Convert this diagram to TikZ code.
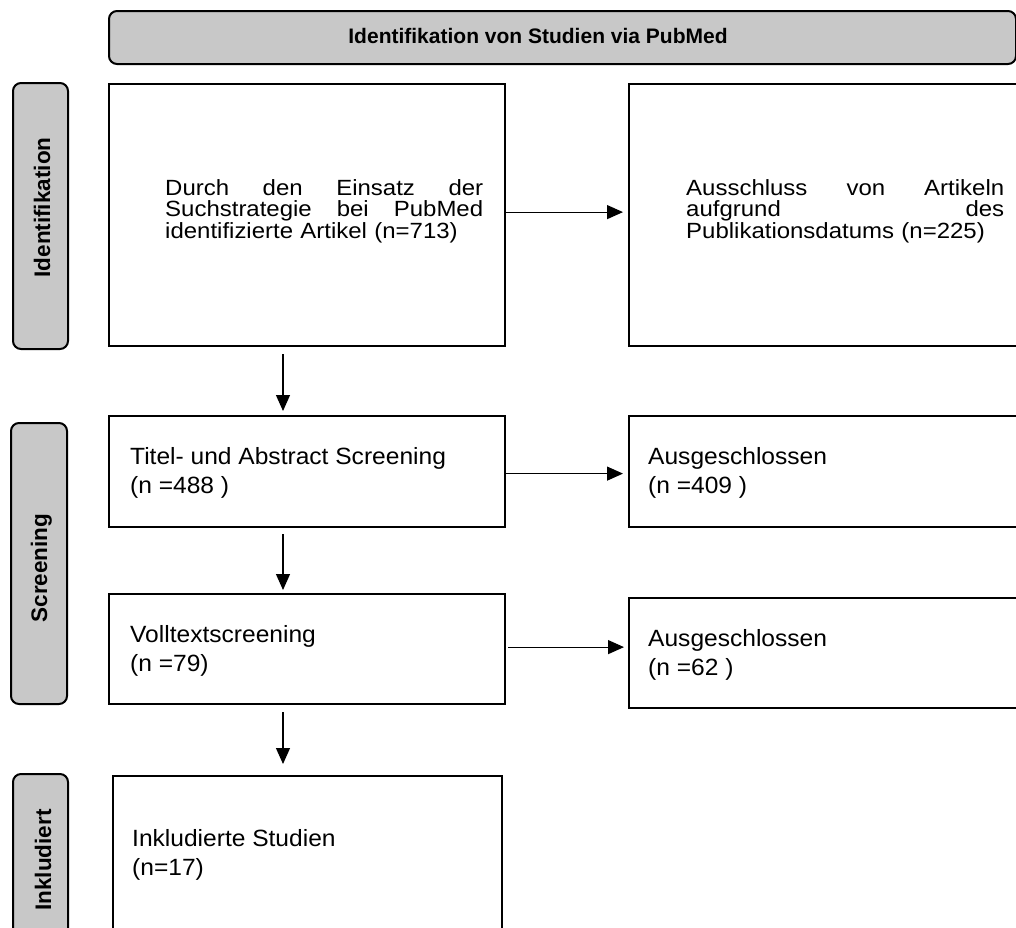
\documentclass[tikz,border=0pt]{standalone}
\usepackage{fontspec}
\setmainfont{Liberation Sans}
\newfontfamily\widetop{Liberation Sans}[FakeStretch=1.09]
\newfontfamily\widelow{Liberation Sans}[FakeStretch=1.045]
\usetikzlibrary{arrows.meta}
\definecolor{lblgray}{RGB}{200,200,200}
\tikzset{
  box/.style={draw=black, line width=2.2pt, fill=white, inner sep=0pt, anchor=north west},
  lbl/.style={draw=black, line width=2pt, fill=lblgray, rounded corners=8pt, inner sep=0pt, anchor=north west},
  toptext/.style={inner sep=0pt, anchor=north west, text width=318pt, align=left,
    font=\widetop\fontsize{22}{21.5}\selectfont},
  lowtext/.style={inner sep=0pt, anchor=north west, align=left,
    font=\widelow\fontsize{23.5}{29}\selectfont},
  vtext/.style={rotate=90, anchor=base, inner sep=0pt, font=\bfseries\fontsize{22.5}{27}\selectfont},
  arr/.style={line width=1.2pt, -{Triangle[length=16pt,width=14pt]}},
}
\newcommand{\fs}{\rule{0pt}{18pt}}
\begin{document}
\begin{tikzpicture}[x=1pt,y=-1pt]
\useasboundingbox (0,0) rectangle (1016,927);
\clip (0,0) rectangle (1016,927);

% header
\node[lbl, minimum width=907pt, minimum height=53pt] (hdr) at (108,10) {};
\node[inner sep=0pt, font=\bfseries\fontsize{21}{25}\selectfont] (hdrt) at (538,36) {Identifikation von Studien via PubMed};

% phase labels
\node[lbl, minimum width=55pt, minimum height=266pt] (l1) at (12,82) {};
\node[vtext] (l1t) at (50,207.5) {Identifikation};
\node[lbl, minimum width=56pt, minimum height=281pt] (l2) at (10,422) {};
\node[vtext] (l2t) at (47,568) {Screening};
\node[lbl, minimum width=55pt, minimum height=250pt] (l3) at (12,773) {};
\node[vtext] (l3t) at (51,860) {Inkludiert};

% boxes
\node[box, minimum width=396pt, minimum height=262pt] (b1) at (108,83) {};
\node[box, minimum width=420pt, minimum height=262pt] (b2) at (628,83) {};
\node[box, minimum width=396pt, minimum height=111pt] (b3) at (108,415) {};
\node[box, minimum width=420pt, minimum height=111pt] (b4) at (628,415) {};
\node[box, minimum width=396pt, minimum height=110pt] (b5) at (108,593) {};
\node[box, minimum width=420pt, minimum height=110pt] (b6) at (628,597) {};
\node[box, minimum width=389pt, minimum height=250pt] (b7) at (112,775) {};

% texts
\node[toptext] (t1) at (165,177) {\fs Durch\hfill den\hfill Einsatz\hfill der\\Suchstrategie\hfill bei\hfill PubMed\\identifizierte Artikel (n=713)};
\node[toptext] (t2) at (686,177) {\fs Ausschluss\hfill von\hfill Artikeln\\aufgrund\hfill des\\Publikationsdatums (n=225)};
\node[lowtext] (t3) at (130,446) {\fs Titel- und Abstract Screening\\(n =488 )};
\node[lowtext] (t4) at (648,446) {\fs Ausgeschlossen\\(n =409 )};
\node[lowtext] (t5) at (130,624) {\fs Volltextscreening\\(n =79)};
\node[lowtext] (t6) at (648,628) {\fs Ausgeschlossen\\(n =62 )};
\node[lowtext] (t7) at (132,828) {\fs Inkludierte Studien\\(n=17)};

% connectors
\draw[arr, shorten >=5pt] ([yshift=3pt]b1.east) -- ([yshift=3pt]b2.west);
\draw[arr, shorten >=5pt] ([yshift=-2pt]b3.east) -- ([yshift=-2pt]b4.west);
\draw[arr, shorten >=4pt, shorten <=2pt] ([yshift=2pt]b5.east) -- ([yshift=2pt]b5.east -| b6.west);
\draw[arr, shorten <=7pt, shorten >=4pt] ([xshift=175pt]b1.south west) -- ([xshift=175pt]b3.north west);
\draw[arr, shorten <=6pt, shorten >=3pt] ([xshift=175pt]b3.south west) -- ([xshift=175pt]b5.north west);
\draw[arr, shorten <=7pt, shorten >=11pt] ([xshift=175pt]b5.south west) -- ([xshift=171pt]b7.north west);
\end{tikzpicture}
\end{document}
